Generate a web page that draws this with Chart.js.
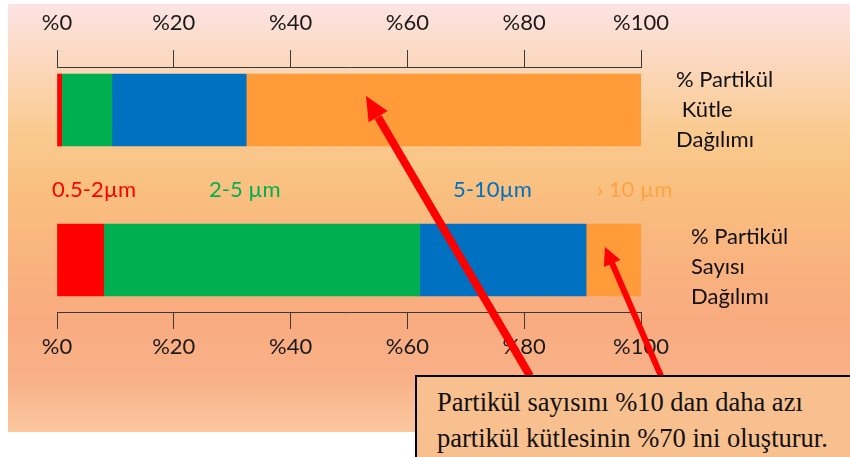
<!DOCTYPE html>
<html lang="tr">
<head>
<meta charset="utf-8">
<title>Partikül Kütle ve Sayı Dağılımı</title>
<script src="https://cdn.jsdelivr.net/npm/chart.js@4.4.1/dist/chart.umd.min.js"></script>
<style>
  html, body { margin: 0; padding: 0; width: 850px; height: 457px; overflow: hidden; background: #ffffff; }
  #bg {
    position: absolute; left: 8px; top: 4px; width: 842px; height: 428px;
    background: linear-gradient(to bottom,
      #fde4e4 0%, #fbd8bf 13%, #facb92 29%, #f9c07f 43%,
      #f9b37f 60%, #f9ab80 74%, #f9b187 88%, #fbc8a0 100%);
  }
  .layer { position: absolute; left: 0; top: 0; pointer-events: none; }
  .size { position: absolute; top: 175px; font: 22px Lato, "Open Sans", sans-serif; white-space: pre; }
  #note {
    position: absolute; left: 415px; top: 375px; width: 450px; height: 100px;
    box-sizing: border-box; border: 2px solid #000; background: #f8c08e;
    padding: 7px 0 0 20px; font: 26.5px/36px "Liberation Serif", "Times New Roman", serif; color: #111;
  }
</style>
</head>
<body>
<div id="bg"></div>
<canvas id="massChart" class="layer" width="850" height="457"></canvas>
<canvas id="countChart" class="layer" width="850" height="457"></canvas>
<div id="sizes"></div>
<svg class="layer" width="850" height="457" viewBox="0 0 850 457">
  <!-- pointer arrows from the note up to the >10 µm segments -->
  <line x1="530" y1="376" x2="378" y2="117" stroke="#ff0000" stroke-width="8"/>
  <polygon points="366,96 387.6,111.1 368.6,122.3" fill="#ff0000"/>
  <line x1="661" y1="376" x2="612" y2="263" stroke="#ff0000" stroke-width="6"/>
  <polygon points="605,247 620.5,259.9 603.9,267.1" fill="#ff0000"/>
</svg>
<div id="note">Partikül sayısını %10 dan daha azı<br>partikül kütlesinin %70 ini oluşturur.</div>

<script>
// Row labels: mass distribution (top bar) and number distribution (bottom bar)
const categories = [
  ['% Partikül', ' Kütle', 'Dağılımı'],
  ['% Partikül', 'Sayısı', 'Dağılımı']
];
// Particle size classes
const sizeClasses = ['0.5-2µm', '2-5 µm', '5-10µm', '› 10 µm'];
// Share (%) of each size class: [mass, number]
const fine   = [0.8, 8.0];
const small  = [8.6, 54.1];
const medium = [23.0, 28.5];
const coarse = [67.6, 9.4];
// Percentage axis ticks
const tickValues = [0, 20, 40, 60, 80, 100];

const series = [fine, small, medium, coarse];
const classColors = ['#ff0000', '#00b050', '#0070c0', '#ff9b38'];
const classTextColors = ['#ff0000', '#00b050', '#0070c0', '#ffa243'];
const sizeLabelLeft = [52, 209, 453, 597];

// size-class captions between the two bars
const sizesBox = document.getElementById('sizes');
sizeClasses.forEach((txt, i) => {
  const s = document.createElement('span');
  s.className = 'size';
  s.textContent = txt;
  s.style.left = sizeLabelLeft[i] + 'px';
  s.style.color = classTextColors[i];
  sizesBox.appendChild(s);
});

const axisColor = '#3a3a3a';
const tickFont = { family: 'Lato', size: 22 };

function buildChart(canvasId, row, cfg) {
  return new Chart(document.getElementById(canvasId), {
    type: 'bar',
    data: {
      labels: [categories[row]],
      datasets: series.map((values, i) => ({
        label: sizeClasses[i],
        data: [values[row]],
        backgroundColor: classColors[i],
        borderWidth: 0,
        barThickness: 72
      }))
    },
    options: {
      indexAxis: 'y',
      responsive: false,
      animation: false,
      events: [],
      layout: { padding: cfg.padding },
      plugins: { legend: { display: false }, tooltip: { enabled: false } },
      scales: {
        x: {
          type: 'linear', position: cfg.axisPos, min: 0, max: 100, stacked: true,
          afterBuildTicks: s => { s.ticks = tickValues.map(v => ({ value: v })); },
          afterFit: s => { s.height = cfg.axisHeight; },
          grid: { drawOnChartArea: false, drawTicks: true, tickLength: 17, color: axisColor, lineWidth: 1 },
          border: { display: true, color: axisColor, width: 1 },
          ticks: { padding: cfg.tickPad, color: '#1a1a1a', font: tickFont, maxRotation: 0, autoSkip: false,
                   callback: v => '%' + v }
        },
        y: {
          type: 'category', position: 'right', stacked: true, offset: true,
          // the row caption sits beside the bar; it must not push the plot area
          afterFit: s => { s.width = 209; s.paddingTop = 0; s.paddingBottom = 0; },
          grid: { display: false, drawTicks: false },
          border: { display: false },
          ticks: { padding: cfg.labelPad, labelOffset: cfg.labelShift, color: '#111111', crossAlign: 'near',
                   font: { family: 'Lato', size: 22, lineHeight: 1.38 } }
        }
      }
    }
  });
}

buildChart('massChart', 0, {
  padding: { left: 57, right: 0, top: 0, bottom: 304 },
  axisPos: 'top', axisHeight: 67, tickPad: 14, labelPad: 35, labelShift: 0
});
buildChart('countChart', 1, {
  padding: { left: 57, right: 0, top: 208, bottom: 0 },
  axisPos: 'bottom', axisHeight: 145, tickPad: 5, labelPad: 50, labelShift: 7
});
</script>
</body>
</html>
